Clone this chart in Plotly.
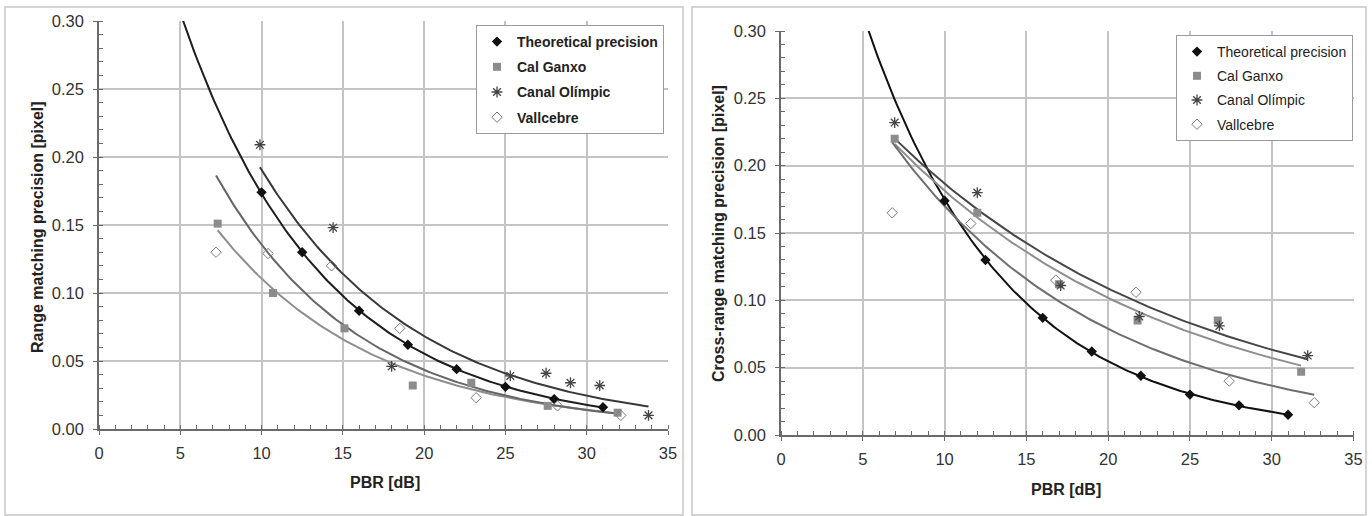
import numpy as np
import plotly.graph_objects as go

# ---------------- data ----------------
theo_x = [10, 12.5, 16, 19, 22, 25, 28, 31]
theo_range_y = [0.174, 0.130, 0.087, 0.062, 0.044, 0.031, 0.022, 0.016]
theo_cross_y = [0.174, 0.130, 0.087, 0.062, 0.044, 0.030, 0.022, 0.015]

cg_range_x = [7.3, 10.7, 15.1, 19.3, 22.9, 27.6, 31.9]
cg_range_y = [0.151, 0.100, 0.074, 0.032, 0.034, 0.017, 0.012]
co_range_x = [9.9, 14.4, 18.0, 25.3, 27.5, 29.0, 30.8, 33.8]
co_range_y = [0.209, 0.148, 0.046, 0.039, 0.041, 0.034, 0.032, 0.010]
va_range_x = [7.2, 10.4, 14.3, 18.5, 23.2, 28.2, 32.1]
va_range_y = [0.130, 0.129, 0.120, 0.074, 0.023, 0.017, 0.010]

cg_cross_x = [6.95, 12.0, 17.0, 21.8, 26.7, 31.8]
cg_cross_y = [0.220, 0.165, 0.112, 0.085, 0.085, 0.047]
co_cross_x = [6.95, 12.0, 17.1, 21.9, 26.8, 32.2]
co_cross_y = [0.232, 0.180, 0.111, 0.088, 0.081, 0.059]
va_cross_x = [6.8, 11.6, 16.8, 21.7, 27.4, 32.6]
va_cross_y = [0.165, 0.157, 0.115, 0.106, 0.040, 0.024]

names = ["Theoretical precision", "Cal Ganxo", "Canal Olímpic", "Vallcebre"]
x_ticks = [0, 5, 10, 15, 20, 25, 30, 35]
y_ticks = [0.00, 0.05, 0.10, 0.15, 0.20, 0.25, 0.30]
theory_backcast_start = 5.0

FONT = "Liberation Sans, Arial, sans-serif"


def exp_trend(xs, ys, start=None, n=150):
    """Exponential least-squares trendline (as the spreadsheet did)."""
    b, a = np.polyfit(np.asarray(xs, float), np.log(np.asarray(ys, float)), 1)
    lo = min(xs) if start is None else start
    xx = np.linspace(lo, max(xs), n)
    return xx, np.exp(a + b * xx)


fig = go.Figure()


def add_panel(xa, ya, legend, series, line_colors):
    for (xs, ys, start), col in zip(series, line_colors):
        tx, ty = exp_trend(xs, ys, start)
        fig.add_trace(go.Scatter(x=tx, y=ty, mode="lines", xaxis=xa, yaxis=ya,
                                 line=dict(color=col, width=2), showlegend=False,
                                 hoverinfo="skip"))
    styles = [
        dict(symbol="diamond", size=8, color="#111111"),
        dict(symbol="square", size=8, color="#8c8c8c"),
        dict(symbol="asterisk-open", size=9, color="#444444", line=dict(width=1.3, color="#444444")),
        dict(symbol="diamond-open", size=8, color="#7a7a7a", line=dict(width=1, color="#7a7a7a")),
    ]
    for (xs, ys, _), nm, st in zip(series, names, styles):
        fig.add_trace(go.Scatter(x=xs, y=ys, mode="markers", name=nm, xaxis=xa, yaxis=ya,
                                 marker=st, legend=legend, legendgroup=legend + nm))


add_panel("x", "y", "legend",
          [(theo_x, theo_range_y, theory_backcast_start),
           (cg_range_x, cg_range_y, None),
           (co_range_x, co_range_y, None),
           (va_range_x, va_range_y, None)],
          ["#1e1e1e", "#8e8e8e", "#383838", "#666666"])

add_panel("x2", "y2", "legend2",
          [(theo_x, theo_cross_y, theory_backcast_start),
           (cg_cross_x, cg_cross_y, None),
           (co_cross_x, co_cross_y, None),
           (va_cross_x, va_cross_y, None)],
          ["#111111", "#8e8e8e", "#464646", "#6e6e6e"])

W, H = 1372, 516


def px(x):
    return x / W


def py(y):
    return (H - y) / H


axis_common = dict(
    showgrid=True, gridcolor="#c4c4c4", gridwidth=1.5,
    showline=True, linecolor="#6a6a6a", linewidth=1.5,
    ticks="outside", ticklen=4, tickcolor="#6a6a6a", tickwidth=1,
    zeroline=False, tickfont=dict(family=FONT, size=16.5, color="#333333"),
    fixedrange=True, automargin=False,
)

xcommon = dict(axis_common, range=[0, 35], tickvals=x_ticks, ticklabelstandoff=4,
               minor=dict(dtick=1, ticks="inside", ticklen=4, tickcolor="#6a6a6a", showgrid=False))
ycommon = dict(axis_common, range=[0, 0.30], tickvals=y_ticks, tickformat=".2f",
               ticklabelstandoff=6,
               minor=dict(dtick=0.01, ticks="inside", ticklen=4, tickcolor="#6a6a6a", showgrid=False))

L = dict(x0=99, x1=668, y0=21, y1=429)
R = dict(x0=781, x1=1353.5, y0=31, y1=435)

fig.update_layout(
    width=W, height=H, margin=dict(l=0, r=0, t=0, b=0, autoexpand=False),
    paper_bgcolor="white", plot_bgcolor="white",
    font=dict(family=FONT, color="#222222"),
    xaxis=dict(xcommon, domain=[px(L["x0"]), px(L["x1"])], anchor="y"),
    yaxis=dict(ycommon, domain=[py(L["y1"]), py(L["y0"])], anchor="x"),
    xaxis2=dict(xcommon, domain=[px(R["x0"]), px(R["x1"])], anchor="y2"),
    yaxis2=dict(ycommon, domain=[py(R["y1"]), py(R["y0"])], anchor="x2"),
    legend=dict(x=px(476), y=py(25), xanchor="left", yanchor="top",
                bgcolor="white", bordercolor="#9a9a9a", borderwidth=1,
                font=dict(family=FONT, size=14, color="#222222", weight="bold"),
                tracegroupgap=4, itemwidth=30),
    legend2=dict(x=px(1176), y=py(35), xanchor="left", yanchor="top",
                 bgcolor="white", bordercolor="#9a9a9a", borderwidth=1,
                 font=dict(family=FONT, size=14, color="#222222"),
                 tracegroupgap=3, itemwidth=30),
    showlegend=True,
)

shapes = []
for (a, b) in [(5, 683), (692, 1366)]:
    shapes.append(dict(type="rect", xref="paper", yref="paper",
                       x0=px(a), x1=px(b), y0=py(515), y1=py(7),
                       line=dict(color="#c8c8c8", width=1.5), layer="below"))
fig.update_layout(shapes=shapes)

title_font = dict(family=FONT, size=16, color="#222222", weight="bold")
fig.add_annotation(text="Range matching precision [pixel]", xref="paper", yref="paper",
                   x=px(37), y=py(227), textangle=-90, showarrow=False, font=title_font,
                   xanchor="center", yanchor="middle")
fig.add_annotation(text="Cross-range matching precision [pixel]", xref="paper", yref="paper",
                   x=px(718), y=py(234), textangle=-90, showarrow=False, font=title_font,
                   xanchor="center", yanchor="middle")
fig.add_annotation(text="PBR [dB]", xref="paper", yref="paper",
                   x=px(384.5), y=py(482), showarrow=False, font=title_font,
                   xanchor="center", yanchor="middle")
fig.add_annotation(text="PBR [dB]", xref="paper", yref="paper",
                   x=px(1066), y=py(489), showarrow=False, font=title_font,
                   xanchor="center", yanchor="middle")

pin_js = (
    "document.documentElement.style.margin='0';"
    "document.documentElement.style.overflow='hidden';"
    "document.body.style.margin='0';document.body.style.overflow='hidden';"
    "var g=document.getElementsByClassName('plotly-graph-div')[0];"
    "g.style.position='fixed';g.style.left='0px';g.style.top='0px';"
)
fig.write_html("out.html", config={"displayModeBar": False}, post_script=pin_js)
